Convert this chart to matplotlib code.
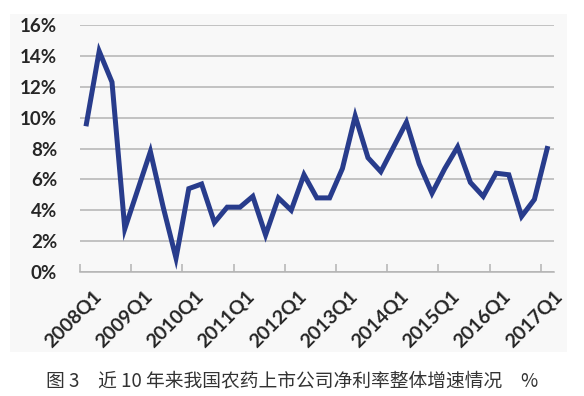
import numpy as np
import matplotlib
matplotlib.use("Agg")
import matplotlib.pyplot as plt
import matplotlib.transforms as mtrans
from matplotlib.patches import Rectangle
from matplotlib.ticker import FuncFormatter

# quarterly net margin growth, 2008Q1 .. 2017Q1 (%)
quarters = ["%dQ%d" % (y, q) for y in range(2008, 2018) for q in range(1, 5)][:37]
values = [9.6, 14.3, 12.3, 2.8, 5.3, 7.8, 4.2, 0.9,
          5.4, 5.7, 3.2, 4.2, 4.2, 4.9, 2.4, 4.8,
          4.0, 6.3, 4.8, 4.8, 6.7, 10.1, 7.4, 6.5,
          8.1, 9.7, 7.0, 5.1, 6.7, 8.1, 5.8, 4.9,
          6.4, 6.3, 3.6, 4.7, 8.0]
label_every = 4
caption = "图 3\u3000近 10 年来我国农药上市公司净利率整体增速情况\u3000%"

line_color = "#283c8c"
grid_color = "#b4b4b4"
tick_font = "Lato"

fig = plt.figure(figsize=(5.84, 3.96), dpi=100)
fig.patch.set_facecolor("white")
bg = Rectangle((10 / 584, 1 - 352 / 396), 557 / 584, 338 / 396,
               transform=fig.transFigure, facecolor="#f8f8f8",
               edgecolor="none", zorder=-5)
fig.add_artist(bg)

ax = fig.add_axes([80 / 584, 124 / 396, 473.6 / 584, 247 / 396])
ax.set_facecolor("none")
ax.set_zorder(2)

x = np.arange(len(values))
ax.plot(x, values, color=line_color, lw=3.6, solid_joinstyle="miter", zorder=3)

ax.set_xlim(-0.5, len(values) - 0.5)
ax.set_ylim(0, 16)
ax.set_yticks(np.arange(0, 17, 2))
ax.yaxis.set_major_formatter(FuncFormatter(lambda v, p: "%d%%" % v))
ax.grid(axis="y", color=grid_color, lw=1.1)
ax.set_axisbelow(True)

for s in ["top", "right", "left"]:
    ax.spines[s].set_visible(False)
ax.spines["bottom"].set_color(grid_color)
ax.spines["bottom"].set_linewidth(1.1)

lab_pos = x[::label_every]
ax.set_xticks(lab_pos)
ax.set_xticklabels([quarters[i] for i in lab_pos], rotation=45, ha="right",
                   rotation_mode="anchor")
ax.set_xticks(np.arange(-0.5, len(values) - 0.5, label_every), minor=True)
ax.tick_params(axis="x", which="major", length=0, pad=11)
ax.tick_params(axis="x", which="minor", length=6, direction="in", color=grid_color, width=1.1)
ax.tick_params(axis="y", length=0, pad=16.5)

shift = mtrans.ScaledTranslation(0.06, 0, fig.dpi_scale_trans)
for t in ax.get_xticklabels():
    t.set_fontsize(14)
    t.set_transform(t.get_transform() + shift)
for t in ax.get_yticklabels():
    t.set_fontsize(13.5)
for t in ax.get_xticklabels() + ax.get_yticklabels():
    t.set_fontfamily(tick_font)
    t.set_fontweight("bold")
    t.set_color("#262626")

fig.text(0.5, 1 - 381 / 396, caption, ha="center", va="center", fontsize=13.5,
         color="#333333", family=["Noto Sans CJK SC", "DejaVu Sans"])

fig.savefig("out.png", dpi=100)
